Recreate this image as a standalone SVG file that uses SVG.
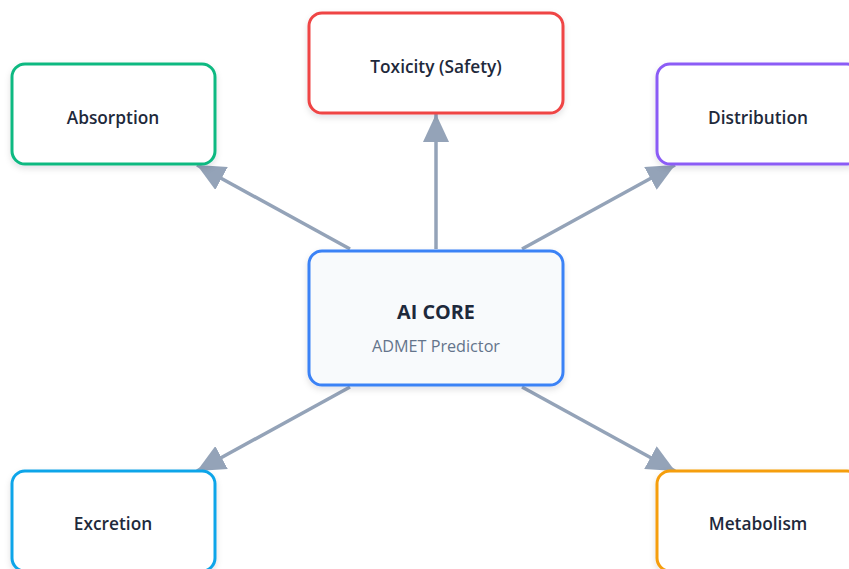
<svg xmlns="http://www.w3.org/2000/svg" width="849" height="569" viewBox="0 0 849 569">
<style>
.node{fill:#ffffff;stroke-width:3;filter:url(#sh)}
.lbl{font-family:"Open Sans","Noto Sans","Liberation Sans",sans-serif;font-weight:600;font-size:17.3px;fill:#1e293b;text-anchor:middle;dominant-baseline:central}
.edge{stroke:#94a3b8;stroke-width:3.5;fill:none;marker-end:url(#ah)}
</style>
<defs>
<filter id="sh" x="-20%" y="-20%" width="140%" height="150%">
<feDropShadow dx="0" dy="3" stdDeviation="3" flood-color="#0f172a" flood-opacity="0.12"/>
</filter>
<marker id="ah" markerUnits="userSpaceOnUse" markerWidth="28" markerHeight="26" viewBox="0 0 28 26" refX="28" refY="13" orient="auto">
<path d="M0,0 L28,13 L0,26 Z" fill="#94a3b8"/>
</marker>
</defs>
<rect width="849" height="569" fill="#ffffff"/>
<g id="connectors">
<line class="edge" x1="436" y1="249" x2="436" y2="114"/>
<line class="edge" x1="350" y1="249" x2="197" y2="165"/>
<line class="edge" x1="522" y1="249" x2="675" y2="165"/>
<line class="edge" x1="350" y1="387" x2="197" y2="471"/>
<line class="edge" x1="522" y1="387" x2="675" y2="471"/>
</g>
<g id="core">
<rect class="node" x="309" y="251" width="254" height="134" rx="13" style="fill:#f8fafc;stroke:#3b82f6"/>
<text x="436" y="311" class="lbl" style="font-size:19.8px;font-weight:700">AI CORE</text>
<text x="436" y="346" class="lbl" style="font-size:16.2px;font-weight:400;fill:#64748b">ADMET Predictor</text>
</g>
<g id="toxicity">
<rect class="node" x="309" y="13" width="254" height="100" rx="13" style="stroke:#ef4444"/>
<text x="436" y="66" class="lbl">Toxicity (Safety)</text>
</g>
<g id="absorption">
<rect class="node" x="12" y="64" width="203" height="100" rx="13" style="stroke:#10b981"/>
<text x="113" y="117" class="lbl">Absorption</text>
</g>
<g id="distribution">
<rect class="node" x="657" y="64" width="203" height="100" rx="13" style="stroke:#8b5cf6"/>
<text x="758" y="117" class="lbl">Distribution</text>
</g>
<g id="excretion">
<rect class="node" x="12" y="471" width="203" height="100" rx="13" style="stroke:#0ea5e9"/>
<text x="113" y="523" class="lbl">Excretion</text>
</g>
<g id="metabolism">
<rect class="node" x="657" y="471" width="203" height="100" rx="13" style="stroke:#f59e0b"/>
<text x="758" y="523" class="lbl">Metabolism</text>
</g>
</svg>
